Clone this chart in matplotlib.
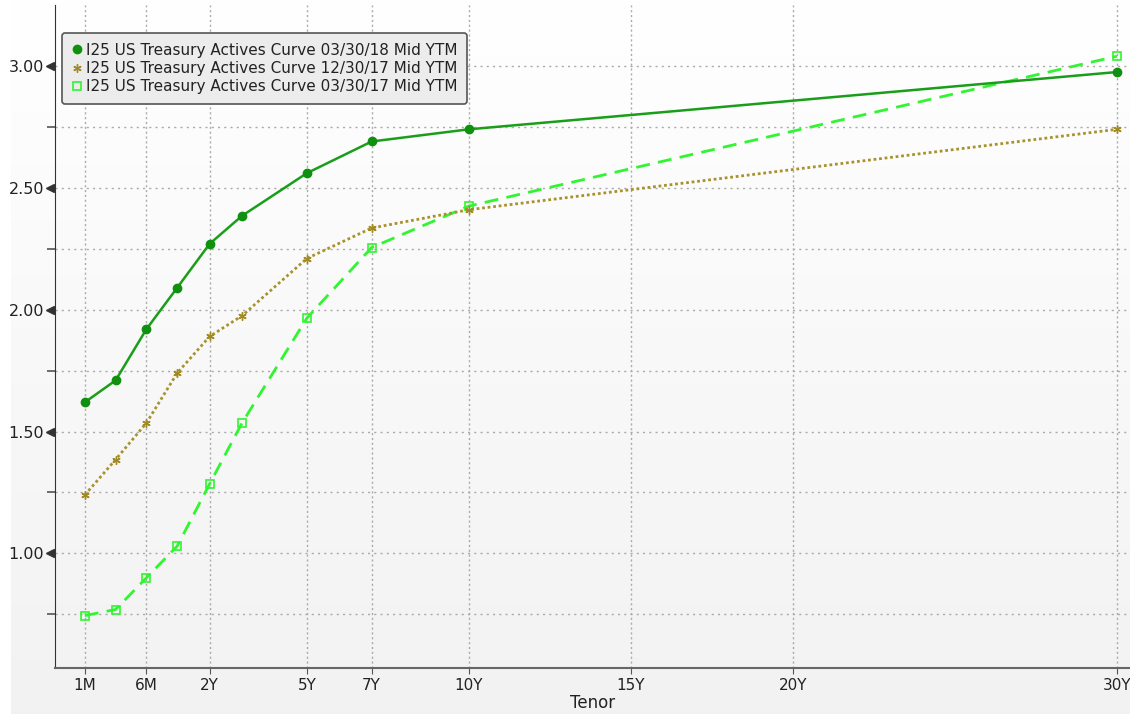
import numpy as np
import matplotlib
matplotlib.use("Agg")
import matplotlib.pyplot as plt
import matplotlib.transforms as mtransforms

# tenors in years and the yields of the three curves
tenors = [1/12, 0.25, 0.5, 1, 2, 3, 5, 7, 10, 30]
curve_0318 = [1.62, 1.71, 1.92, 2.09, 2.27, 2.385, 2.56, 2.69, 2.74, 2.975]
curve_1217 = [1.24, 1.385, 1.535, 1.74, 1.89, 1.975, 2.21, 2.335, 2.41, 2.74]
curve_0317 = [0.745, 0.77, 0.90, 1.03, 1.285, 1.535, 1.965, 2.255, 2.425, 3.04]

labels = ["I25 US Treasury Actives Curve 03/30/18 Mid YTM",
          "I25 US Treasury Actives Curve 12/30/17 Mid YTM",
          "I25 US Treasury Actives Curve 03/30/17 Mid YTM"]

tick_tenors = [1/12, 0.5, 2, 5, 7, 10, 15, 20, 30]
tick_labels = ["1M", "6M", "2Y", "5Y", "7Y", "10Y", "15Y", "20Y", "30Y"]

# short end is spaced evenly, 2Y onwards is linear in years
knot_t = [1/12, 0.25, 0.5, 1, 2, 30]
knot_x = [-1.85, -0.9, 0.05, 1.0, 2.0, 30.0]

def pos(t):
    return np.interp(t, knot_t, knot_x)

plt.rcParams['font.family'] = ['DejaVu Sans']

fig = plt.figure(figsize=(11.3, 7.14), dpi=100)
fig.patch.set_facecolor("white")

# panel background gradient
bg = fig.add_axes([0.0097, 0, 0.9903, 1], zorder=-1)
grad = np.linspace(1.0, 0.949, 256).reshape(-1, 1)
bg.imshow(np.dstack([grad, grad, grad]), aspect="auto", extent=[0, 1, 0, 1])
bg.axis("off")

ax = fig.add_axes([55/1130, 46/714, 1 - 55/1130, 663/714])
ax.patch.set_alpha(0)

ax.plot(pos(tenors), curve_0318, color="#1a9e1a", lw=1.8, marker="o", ms=6,
        mfc="#0f900f", mec="#0f900f", label=labels[0], zorder=5)
ax.plot(pos(tenors), curve_1217, color="#a8922c", lw=2, ls=(0, (1, 1)),
        marker=(6, 2, 0), ms=6, mec="#a08a25", label=labels[1], zorder=4)
ax.plot(pos(tenors), curve_0317, color="#30f530", lw=2, ls=(0, (5, 3)),
        marker="s", ms=6, mfc="none", mec="#30f530", mew=1.2,
        label=labels[2], zorder=3)

ax.set_xlim(-2.77, 30.4)
ax.set_ylim(0.53, 3.25)

ax.set_xticks(pos(tick_tenors))
ax.set_xticklabels(tick_labels, fontsize=11, color="#222222")
ax.set_yticks([1.0, 1.5, 2.0, 2.5, 3.0])
ax.set_yticklabels(["%.2f" % v for v in [1.0, 1.5, 2.0, 2.5, 3.0]],
                   fontsize=11.5, color="#222222")
ax.set_yticks([0.75, 1.25, 1.75, 2.25, 2.75], minor=True)
ax.tick_params(axis="y", which="major", length=0, pad=8)
ax.tick_params(axis="y", which="minor", length=6, width=1.2, color="#555555")
ax.tick_params(axis="x", which="major", length=4, color="#555555", pad=3)

# triangle ticks on the y axis
trans = mtransforms.blended_transform_factory(ax.transAxes, ax.transData)
ax.plot([-0.0045] * 5, [1.0, 1.5, 2.0, 2.5, 3.0], ls="none", marker="<",
        ms=6, color="#333333", transform=trans, clip_on=False)

ax.grid(True, which="both", axis="y", ls=(0, (1.5, 3)), color="#aaaaaa", lw=1)
ax.grid(True, which="major", axis="x", ls=(0, (1.5, 2)), color="#aaaaaa", lw=1)
ax.set_axisbelow(True)

for s in ["top", "right"]:
    ax.spines[s].set_visible(False)
ax.spines["left"].set_color("#333333")
ax.spines["bottom"].set_color("#666666")
ax.spines["bottom"].set_linewidth(1.5)

ax.set_xlabel("Tenor", fontsize=12, color="#222222", labelpad=1)

leg = ax.legend(loc="upper left", bbox_to_anchor=(0.0065, 0.958), fontsize=11,
                frameon=True, fancybox=True, handlelength=0.6,
                handletextpad=0.3, labelspacing=0.22, borderpad=0.65,
                borderaxespad=0, facecolor="#ececec", edgecolor="#555555",
                framealpha=1)
for h in leg.legend_handles:
    h.set_linestyle("none")
leg.get_frame().set_linewidth(1.2)
for t in leg.get_texts():
    t.set_color("#222222")

fig.savefig("out.png", dpi=100, facecolor=fig.get_facecolor())
